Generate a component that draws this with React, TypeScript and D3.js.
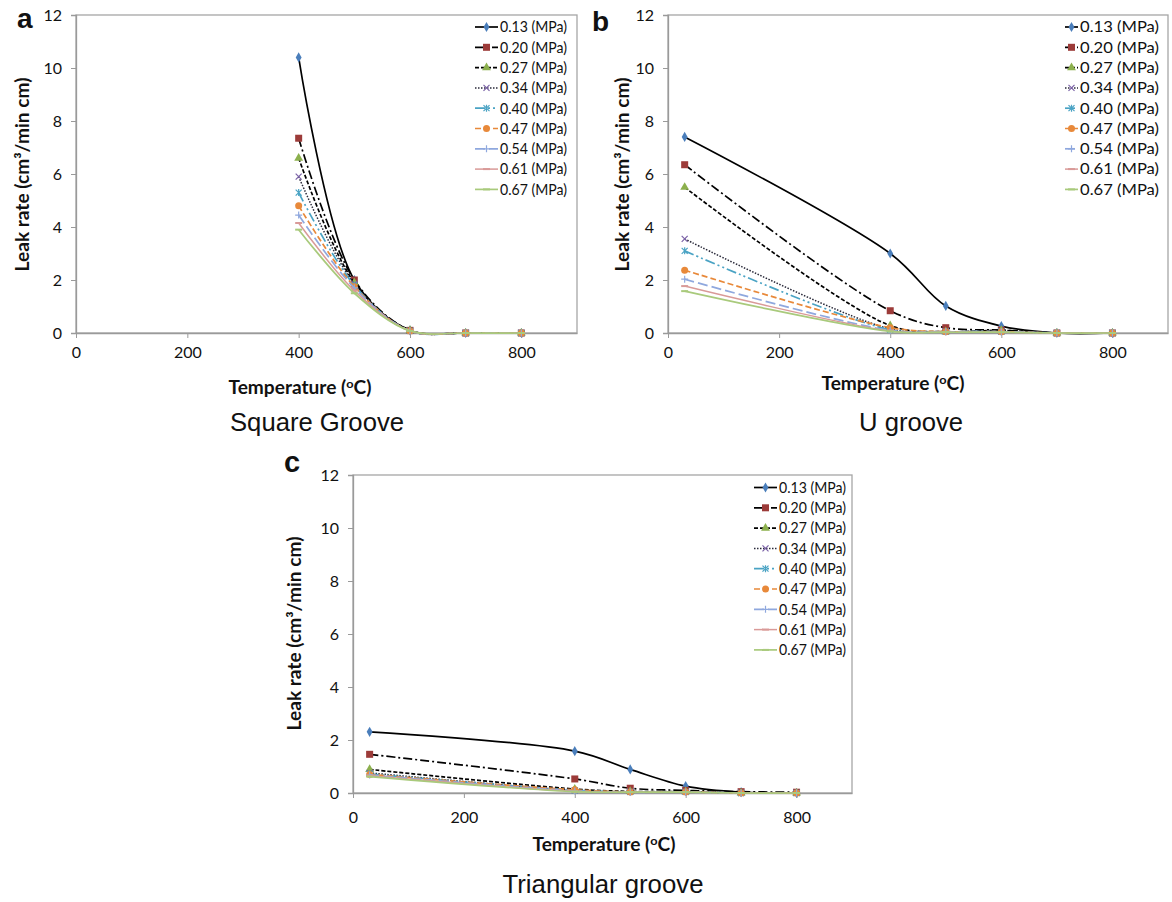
import React, { useEffect, useRef } from "react";
import * as d3 from "d3";

// ---------- data ----------
const PRESSURES = ["0.13", "0.20", "0.27", "0.34", "0.40", "0.47", "0.54", "0.61", "0.67"];
const X_TICKS = [0, 200, 400, 600, 800];
const Y_TICKS = [0, 2, 4, 6, 8, 10, 12];

const SQUARE_TEMPS = [400, 500, 600, 700, 800];
const SQUARE_RATES = [
  [10.4, 2.0, 0.1, 0, 0],
  [7.35, 2.0, 0.1, 0, 0],
  [6.6, 1.9, 0.1, 0, 0],
  [5.9, 1.85, 0.08, 0, 0],
  [5.3, 1.8, 0.08, 0, 0],
  [4.8, 1.75, 0.08, 0, 0],
  [4.45, 1.7, 0.08, 0, 0],
  [4.15, 1.6, 0.08, 0, 0],
  [3.9, 1.5, 0.08, 0, 0],
];

const U_TEMPS = [30, 400, 500, 600, 700, 800];
const U_RATES = [
  [7.4, 3.0, 1.02, 0.26, 0, 0],
  [6.35, 0.84, 0.2, 0.11, 0, 0],
  [5.5, 0.28, 0.05, 0.1, 0, 0],
  [3.55, 0.15, 0.05, 0.05, 0, 0],
  [3.1, 0.12, 0.05, 0.05, 0, 0],
  [2.37, 0.2, 0.05, 0.05, 0, 0],
  [2.03, 0.1, 0.05, 0.05, 0, 0],
  [1.77, 0.08, 0.03, 0.03, 0, 0],
  [1.58, 0.06, 0.03, 0.03, 0, 0],
];

const TRI_TEMPS = [30, 400, 500, 600, 700, 800];
const TRI_RATES = [
  [2.31, 1.58, 0.89, 0.26, 0.03, 0],
  [1.46, 0.53, 0.18, 0.1, 0.05, 0.03],
  [0.89, 0.15, 0.06, 0.05, 0, 0],
  [0.76, 0.1, 0.04, 0.04, 0, 0],
  [0.72, 0.1, 0.04, 0.04, 0, 0],
  [0.7, 0.12, 0.04, 0.04, 0, 0],
  [0.68, 0.08, 0.03, 0.03, 0, 0],
  [0.65, 0.06, 0.03, 0.03, 0, 0],
  [0.62, 0.05, 0.03, 0.03, 0, 0],
];

const PANEL_TITLES = ["Square Groove", "U groove", "Triangular groove"];
const PANEL_LETTERS = ["a", "b", "c"];

// ---------- styles ----------
const SERIES_STYLE = [
  { color: "#000000", dash: null, width: 1.7, marker: "diamond", mcolor: "#4a7ebb" },
  { color: "#000000", dash: "9,3,2,3", width: 1.7, marker: "square", mcolor: "#9c3b39" },
  { color: "#000000", dash: "4,2", width: 1.7, marker: "triangle", mcolor: "#8cb04d" },
  { color: "#2a2a3a", dash: "1.5,1.5", width: 1.5, marker: "x", mcolor: "#7c63a8" },
  { color: "#4aa3c4", dash: "10,3,2,3,2,3", width: 1.7, marker: "asterisk", mcolor: "#4aa3c4" },
  { color: "#e8893a", dash: "6,3", width: 1.7, marker: "circle", mcolor: "#e8893a" },
  { color: "#8fa8de", dash: "10,4", width: 1.7, marker: "plus", mcolor: "#8fa8de" },
  { color: "#d99a98", dash: null, width: 1.5, marker: "dash", mcolor: "#d99a98" },
  { color: "#a9ca7c", dash: null, width: 1.7, marker: "dash", mcolor: "#a9ca7c" },
];

const LAYOUTS = [
  {
    left: 76, top: 15, right: 577, bottom: 333, tickPad: 9,
    legendX: 500, legendY: 27, legendW: 67, sampleW: 23,
    letterX: 17, letterY: 28, letterSize: 28,
    titleX: 317, titleY: 431, titleW: 174,
    yTitleX: 29, yTitleY: 174.5,
    xTitleX: 300, xTitleY: 393.5,
  },
  {
    left: 668, top: 15, right: 1168, bottom: 333, tickPad: 9,
    legendX: 1080, legendY: 27, legendW: 79, sampleW: 13,
    letterX: 592, letterY: 31, letterSize: 28,
    titleX: 911, titleY: 431, titleW: 104,
    yTitleX: 629, yTitleY: 174.5,
    xTitleX: 893, xTitleY: 390,
  },
  {
    left: 353, top: 475, right: 852, bottom: 793, tickPad: 14,
    legendX: 779, legendY: 487.5, legendW: 67, sampleW: 23,
    letterX: 284, letterY: 472, letterSize: 29,
    titleX: 603, titleY: 893, titleW: 201,
    yTitleX: 300.5, yTitleY: 633.5,
    xTitleX: 604, xTitleY: 851,
  },
];

const TICK_FONT = "Lato, 'Open Sans', sans-serif";
const ARIAL = "'Liberation Sans', Arial, sans-serif";
const GRAY = "#9a9a9a";

function drawMarker(g: any, type: string, x: number, y: number, color: string) {
  switch (type) {
    case "diamond":
      g.append("path").attr("d", d3.symbol(d3.symbolDiamond, 30)()).attr("transform", `translate(${x},${y})`).attr("fill", color);
      break;
    case "square":
      g.append("rect").attr("x", x - 3.5).attr("y", y - 3.5).attr("width", 7).attr("height", 7).attr("fill", color);
      break;
    case "triangle":
      g.append("path").attr("d", d3.symbol(d3.symbolTriangle, 34)()).attr("transform", `translate(${x},${y})`).attr("fill", color);
      break;
    case "x":
      g.append("path").attr("d", `M${x - 3},${y - 3}L${x + 3},${y + 3}M${x - 3},${y + 3}L${x + 3},${y - 3}`).attr("stroke", color).attr("stroke-width", 1.2).attr("fill", "none");
      break;
    case "asterisk":
      g.append("path").attr("d", `M${x - 3},${y - 3}L${x + 3},${y + 3}M${x - 3},${y + 3}L${x + 3},${y - 3}M${x},${y - 3.5}L${x},${y + 3.5}`).attr("stroke", color).attr("stroke-width", 1.2).attr("fill", "none");
      break;
    case "circle":
      g.append("circle").attr("cx", x).attr("cy", y).attr("r", 3.5).attr("fill", color);
      break;
    case "plus":
      g.append("path").attr("d", `M${x - 3.5},${y}L${x + 3.5},${y}M${x},${y - 3.5}L${x},${y + 3.5}`).attr("stroke", color).attr("stroke-width", 1.2).attr("fill", "none");
      break;
    case "dash":
      g.append("path").attr("d", `M${x - 3.5},${y}L${x + 3.5},${y}`).attr("stroke", color).attr("stroke-width", 2).attr("fill", "none");
      break;
  }
}

function drawPanel(svg: any, idx: number, temps: number[], rates: number[][]) {
  const L = LAYOUTS[idx];
  const x = d3.scaleLinear().domain([0, 900]).range([L.left, L.right]);
  const y = d3.scaleLinear().domain([0, 12]).range([L.bottom, L.top]);
  const g = svg.append("g");

  // plot area border
  g.append("rect").attr("x", L.left).attr("y", L.top).attr("width", L.right - L.left).attr("height", L.bottom - L.top)
    .attr("fill", "none").attr("stroke", "#a6a6a6").attr("stroke-width", 1.3);

  // y axis
  const ya = g.append("g").attr("transform", `translate(${L.left},0)`)
    .call(d3.axisLeft(y).tickValues(Y_TICKS).tickSize(5).tickPadding(9).tickFormat(d3.format("d")));
  ya.select(".domain").attr("stroke", GRAY).attr("stroke-width", 1.3);
  ya.selectAll(".tick line").attr("stroke", GRAY);
  ya.selectAll(".tick text").attr("font-family", TICK_FONT).attr("font-size", 16).attr("fill", "#111");

  // x axis
  const xa = g.append("g").attr("transform", `translate(0,${L.bottom})`)
    .call(d3.axisBottom(x).tickValues(X_TICKS).tickSize(5).tickPadding(L.tickPad).tickSizeOuter(0).tickFormat(d3.format("d")));
  xa.select(".domain").attr("stroke", GRAY).attr("stroke-width", 1.3);
  xa.selectAll(".tick line").attr("stroke", GRAY);
  xa.selectAll(".tick text").attr("font-family", TICK_FONT).attr("font-size", 16).attr("fill", "#111");

  // series (smoothed lines)
  const line = d3.line<[number, number]>().x((d) => x(d[0])).y((d) => y(d[1])).curve(d3.curveCatmullRom.alpha(0.5));
  rates.forEach((vals, si) => {
    const st = SERIES_STYLE[si];
    const pts: [number, number][] = temps.map((t, i) => [t, vals[i]]);
    const p = g.append("path").attr("d", line(pts)).attr("fill", "none").attr("stroke", st.color).attr("stroke-width", st.width);
    if (st.dash) p.attr("stroke-dasharray", st.dash);
    pts.forEach((pt) => drawMarker(g, st.marker, x(pt[0]), y(pt[1]), st.mcolor));
  });

  // legend
  PRESSURES.forEach((pr, si) => {
    const st = SERIES_STYLE[si];
    const ly = L.legendY + si * 20.3;
    const x0 = L.legendX - 2 - L.sampleW;
    const p = g.append("path").attr("d", `M${x0},${ly}L${L.legendX - 2},${ly}`).attr("stroke", st.color).attr("stroke-width", st.width).attr("fill", "none");
    if (st.dash) p.attr("stroke-dasharray", st.dash);
    drawMarker(g, st.marker, x0 + L.sampleW / 2, ly, st.mcolor);
    g.append("text").attr("x", L.legendX).attr("y", ly + 5.3).attr("font-family", TICK_FONT).attr("font-size", 15).attr("fill", "#111")
      .attr("textLength", L.legendW).attr("lengthAdjust", "spacingAndGlyphs")
      .text(`${pr} (MPa)`);
  });

  // y title
  g.append("text").attr("transform", `translate(${L.yTitleX},${L.yTitleY}) rotate(-90)`)
    .attr("text-anchor", "middle").attr("font-family", TICK_FONT).attr("font-weight", "bold").attr("font-size", 18).attr("fill", "#111")
    .attr("textLength", 194).attr("lengthAdjust", "spacingAndGlyphs")
    .text("Leak rate (cm³/min cm)");

  // x title
  const xt = g.append("text").attr("x", L.xTitleX).attr("y", L.xTitleY).attr("text-anchor", "middle")
    .attr("font-family", TICK_FONT).attr("font-weight", "bold").attr("font-size", 18).attr("fill", "#111")
    .attr("textLength", 143).attr("lengthAdjust", "spacingAndGlyphs");
  xt.append("tspan").text("Temperature (");
  xt.append("tspan").attr("dy", -6).attr("font-size", 12).text("o");
  xt.append("tspan").attr("dy", 6).text("C)");

  // panel title
  g.append("text").attr("x", L.titleX).attr("y", L.titleY).attr("text-anchor", "middle")
    .attr("font-family", ARIAL).attr("font-size", 25).attr("fill", "#111")
    .attr("textLength", L.titleW).attr("lengthAdjust", "spacingAndGlyphs")
    .text(PANEL_TITLES[idx]);

  // panel letter
  g.append("text").attr("x", L.letterX).attr("y", L.letterY)
    .attr("font-family", ARIAL).attr("font-weight", "bold").attr("font-size", L.letterSize).attr("fill", "#111").text(PANEL_LETTERS[idx]);
}

export default function App() {
  const ref = useRef<SVGSVGElement | null>(null);
  useEffect(() => {
    const svg = d3.select(ref.current);
    svg.selectAll("*").remove();
    svg.append("rect").attr("width", 1172).attr("height", 902).attr("fill", "#fff");
    drawPanel(svg, 0, SQUARE_TEMPS, SQUARE_RATES);
    drawPanel(svg, 1, U_TEMPS, U_RATES);
    drawPanel(svg, 2, TRI_TEMPS, TRI_RATES);
  }, []);
  return (
    <svg ref={ref} width={1172} height={902} style={{ position: "absolute", left: 0, top: 0, display: "block" }} />
  );
}
